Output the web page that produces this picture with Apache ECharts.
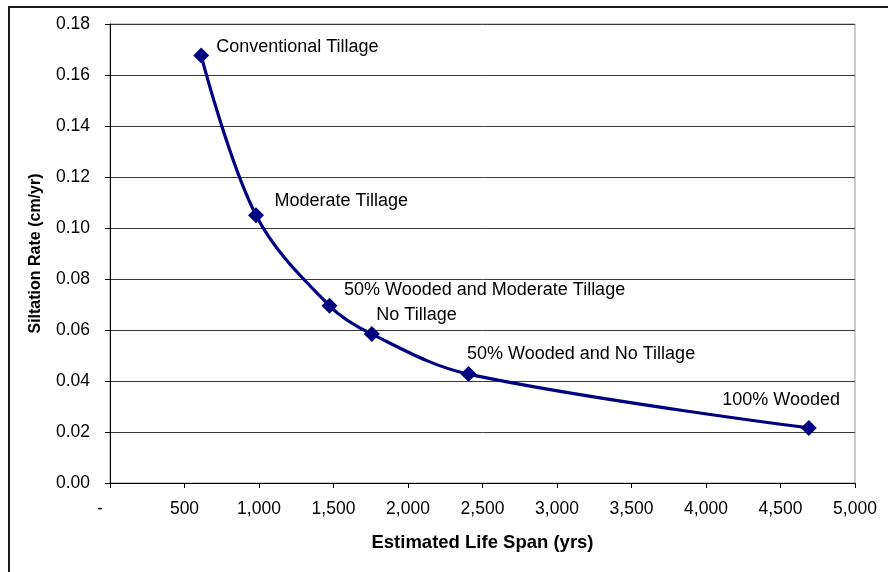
<!DOCTYPE html>
<html>
<head>
<meta charset="utf-8">
<script src="https://cdn.jsdelivr.net/npm/echarts@6/dist/echarts.min.js"></script>
<style>
html,body{margin:0;padding:0;background:#fff;}
#chart{width:888px;height:572px;}
</style>
</head>
<body>
<div id="chart"></div>
<script>
// Data
var pointNames = ['Conventional Tillage', 'Moderate Tillage', '50% Wooded and Moderate Tillage', 'No Tillage', '50% Wooded and No Tillage', '100% Wooded'];
var lifeSpan = [612, 980, 1473, 1757, 2406, 4690];
var siltationRate = [0.1676, 0.1050, 0.0695, 0.0584, 0.0427, 0.0216];
var xTickValues = [0, 500, 1000, 1500, 2000, 2500, 3000, 3500, 4000, 4500, 5000];
var yTickValues = [0, 0.02, 0.04, 0.06, 0.08, 0.10, 0.12, 0.14, 0.16, 0.18];

// Label placement (layout only)
var labelOffsets = [[7, -9], [10.5, -14], [6.5, -15.5], [-3.5, -19], [-9.5, -20.5], [-94.5, -27.5]];

var FONT = 'Liberation Sans, Arial, sans-serif';
var seriesData = lifeSpan.map(function (x, i) {
  return {
    value: [x, siltationRate[i]],
    name: pointNames[i],
    label: { offset: labelOffsets[i] }
  };
});

var chart = echarts.init(document.getElementById('chart'), null, { renderer: 'canvas' });
chart.setOption({
  backgroundColor: '#ffffff',
  animation: false,
  graphic: [{
    type: 'rect',
    shape: { x: 9, y: 7, width: 1000, height: 1000 },
    style: { fill: 'none', stroke: '#1a1a1a', lineWidth: 2 },
    silent: true,
    z: 0
  }],
  grid: {
    left: 110, right: 33, top: 24, bottom: 89,
    show: true, borderColor: '#999999', borderWidth: 1, backgroundColor: 'transparent'
  },
  xAxis: {
    type: 'value',
    min: xTickValues[0], max: xTickValues[xTickValues.length - 1], interval: 500,
    name: 'Estimated Life Span (yrs)',
    nameLocation: 'middle', nameGap: 50,
    nameTextStyle: { fontFamily: FONT, fontSize: 18.5, fontWeight: 'bold', color: '#000' },
    axisLine: { show: true, onZero: false, lineStyle: { color: '#000', width: 1 } },
    axisTick: { show: true, inside: false, length: 5, lineStyle: { color: '#000' } },
    splitLine: { show: false },
    axisLabel: {
      margin: 17, fontFamily: FONT, fontSize: 17.5, color: '#000',
      formatter: function (v) {
        if (v === 0) return '{z|-}';
        return v.toLocaleString('en-US');
      },
      rich: { z: { fontFamily: FONT, fontSize: 17.5, color: '#000', padding: [0, 20, 0, 0] } }
    }
  },
  yAxis: {
    type: 'value',
    min: yTickValues[0], max: yTickValues[yTickValues.length - 1], interval: 0.02,
    name: 'Siltation Rate (cm/yr)',
    nameLocation: 'middle', nameGap: 66, nameRotate: 90,
    nameTextStyle: { fontFamily: FONT, fontSize: 16, fontWeight: 'bold', color: '#000' },
    axisLine: { show: true, onZero: false, lineStyle: { color: '#000', width: 1 } },
    axisTick: { show: true, inside: false, length: 5, lineStyle: { color: '#000' } },
    splitLine: { show: true, lineStyle: { color: '#3a3a3a', width: 1 } },
    axisLabel: {
      margin: 20, fontFamily: FONT, fontSize: 17.5, color: '#000',
      formatter: function (v) { return v.toFixed(2); }
    }
  },
  series: [{
    type: 'line',
    data: seriesData,
    smooth: 0.35,
    symbol: 'diamond',
    symbolSize: 16,
    itemStyle: { color: '#000080' },
    lineStyle: { color: '#000080', width: 3.2 },
    label: {
      show: true,
      position: 'right',
      distance: 0,
      fontFamily: FONT,
      fontSize: 18,
      color: '#000',
      formatter: function (p) { return p.name; }
    },
    z: 5
  }]
});
</script>
</body>
</html>
